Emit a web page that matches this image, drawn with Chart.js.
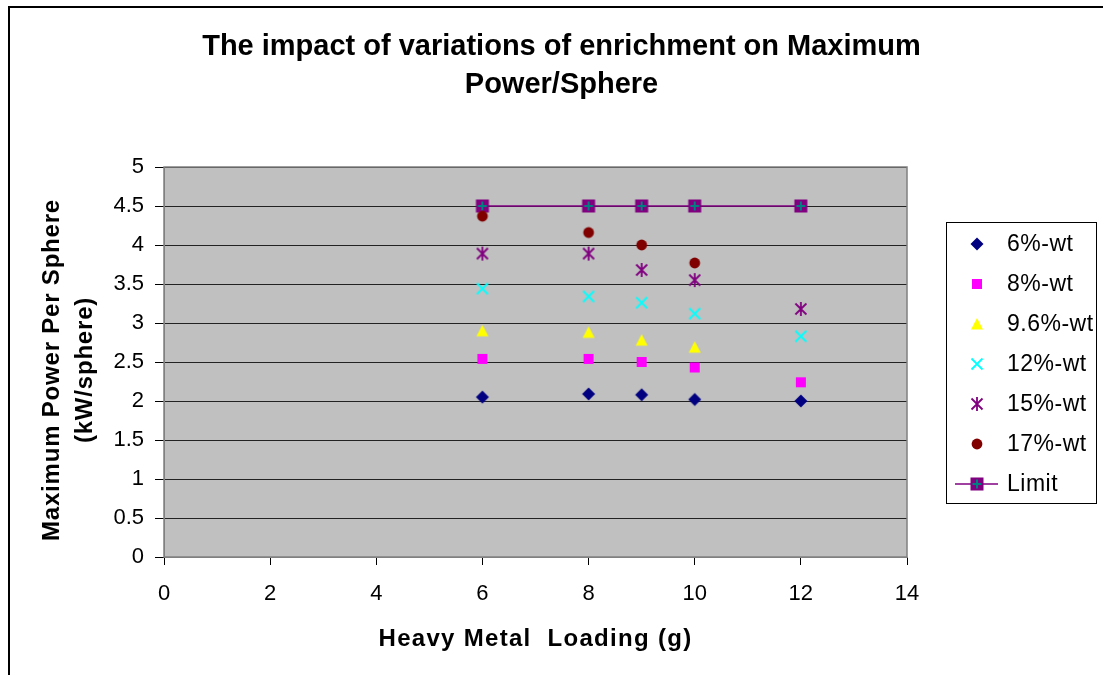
<!DOCTYPE html>
<html>
<head>
<meta charset="utf-8">
<script src="https://cdn.jsdelivr.net/npm/chart.js@4"></script>
<style>
  html, body { margin: 0; padding: 0; background: #fff; }
  #wrap { width: 1103px; height: 675px; }
</style>
</head>
<body>
<div id="wrap"><canvas id="powerChart" width="1103" height="675"></canvas></div>
<script>
// heavy metal loading (g)
const loading = [6, 8, 9, 10, 12];

// max power per sphere (kW/sphere) for each enrichment
const enr6 = [2.05, 2.09, 2.08, 2.02, 2.00];
const enr8 = [2.54, 2.54, 2.50, 2.43, 2.24];
const enr96 = [2.90, 2.88, 2.78, 2.69, null];
const enr12 = [3.44, 3.34, 3.26, 3.12, 2.83];
const enr15 = [3.89, 3.89, 3.68, 3.55, 3.18];
const enr17 = [4.37, 4.16, 4.00, 3.77, null];
const limit = [4.5, 4.5, 4.5, 4.5, 4.5];

const seriesNames = ["6%-wt", "8%-wt", "9.6%-wt", "12%-wt", "15%-wt", "17%-wt", "Limit"];

const titleLines = ["The impact of variations of enrichment on Maximum", "Power/Sphere"];
const xTitle = "Heavy Metal  Loading (g)";
const yTitle = ["Maximum Power Per Sphere", "(kW/sphere)"];

const FONT = '"Liberation Sans", Arial, sans-serif';

// little canvases used as point markers (Excel style)
function makeMarker(kind, color) {
    const c = document.createElement("canvas");
    c.width = 16;
    c.height = 16;
    const g = c.getContext("2d");
    g.fillStyle = color;
    g.strokeStyle = color;
    g.lineWidth = 1.8;
    if (kind === "diamond") {
        g.beginPath();
        g.moveTo(8, 1.5); g.lineTo(14.5, 8); g.lineTo(8, 14.5); g.lineTo(1.5, 8);
        g.closePath(); g.fill();
    } else if (kind === "square") {
        g.fillRect(3, 3, 10, 10);
    } else if (kind === "triangle") {
        g.beginPath();
        g.moveTo(8, 2); g.lineTo(14, 13.5); g.lineTo(2, 13.5);
        g.closePath(); g.fill();
    } else if (kind === "x") {
        g.beginPath();
        g.moveTo(2.5, 2.5); g.lineTo(13.5, 13.5);
        g.moveTo(13.5, 2.5); g.lineTo(2.5, 13.5);
        g.stroke();
    } else if (kind === "star") {
        g.beginPath();
        g.moveTo(2.5, 2.5); g.lineTo(13.5, 13.5);
        g.moveTo(13.5, 2.5); g.lineTo(2.5, 13.5);
        g.moveTo(8, 1); g.lineTo(8, 15);
        g.stroke();
    } else if (kind === "circle") {
        g.beginPath();
        g.arc(8, 8, 5.4, 0, Math.PI * 2);
        g.fill();
    } else if (kind === "limit") {
        g.fillRect(1.5, 1.5, 13, 13);
        g.strokeStyle = "#008080";
        g.lineWidth = 2;
        g.beginPath();
        g.moveTo(8, 3.5); g.lineTo(8, 12.5);
        g.moveTo(3.5, 8); g.lineTo(12.5, 8);
        g.stroke();
    }
    return c;
}

function toPoints(ys) {
    return loading.map((x, i) => ({ x: x, y: ys[i] })).filter(p => p.y !== null);
}

function series(i, ys, kind, color, line) {
    return {
        label: seriesNames[i],
        data: toPoints(ys),
        yAxisID: "y",
        pointStyle: makeMarker(kind, color),
        showLine: !!line,
        borderColor: color,
        backgroundColor: color,
        borderWidth: line ? 1.5 : 0,
    };
}

const datasets = [
    series(0, enr6, "diamond", "#000080"),
    series(1, enr8, "square", "#FF00FF"),
    series(2, enr96, "triangle", "#FFFF00"),
    series(3, enr12, "x", "#00FFFF"),
    series(4, enr15, "star", "#800080"),
    series(5, enr17, "circle", "#800000"),
    series(6, limit, "limit", "#800080", true),
];

// white page, the black frame and the grey plot area
const backdrop = {
    id: "backdrop",
    beforeDraw(chart) {
        const ctx = chart.ctx;
        const a = chart.chartArea;
        ctx.save();
        ctx.fillStyle = "#fff";
        ctx.fillRect(0, 0, chart.width, chart.height);
        ctx.fillStyle = "#000";
        ctx.fillRect(8, 6, 2, chart.height);
        ctx.fillRect(8, 6, chart.width, 2);
        ctx.fillStyle = "#C0C0C0";
        ctx.fillRect(a.left, a.top, a.right - a.left, a.bottom - a.top);
        ctx.restore();
    },
    beforeDatasetsDraw(chart) {
        const ctx = chart.ctx;
        const a = chart.chartArea;
        ctx.save();
        ctx.strokeStyle = "#808080";
        ctx.lineWidth = 1.5;
        ctx.strokeRect(a.left, a.top, a.right - a.left, a.bottom - a.top);
        ctx.restore();
    },
};

// axis titles, drawn with the wide letter spacing of the original
const axisTitles = {
    id: "axisTitles",
    afterDraw(chart) {
        const ctx = chart.ctx;
        const a = chart.chartArea;
        const cx = (a.left + a.right) / 2;
        ctx.save();
        ctx.fillStyle = "#000";
        ctx.font = "bold 24px " + FONT;
        ctx.textAlign = "center";
        ctx.textBaseline = "middle";
        ctx.letterSpacing = "1.3px";
        ctx.fillText(xTitle, cx, 639);

        ctx.letterSpacing = "0.8px";
        ctx.translate(0, 370);
        ctx.rotate(-Math.PI / 2);
        ctx.fillText(yTitle[0], 0, 52);
        ctx.fillText(yTitle[1], 0, 85);
        ctx.restore();
    },
};

// boxed legend on the right
const boxLegend = {
    id: "boxLegend",
    afterDraw(chart) {
        const ctx = chart.ctx;
        ctx.save();
        ctx.strokeStyle = "#000";
        ctx.lineWidth = 1;
        ctx.strokeRect(946.5, 222.5, 150, 281);
        ctx.font = "23px " + FONT;
        ctx.letterSpacing = "0.5px";
        ctx.textBaseline = "middle";
        ctx.textAlign = "left";
        ctx.fillStyle = "#000";
        chart.data.datasets.forEach((ds, i) => {
            const y = 244 + i * 40;
            if (ds.showLine) {
                ctx.strokeStyle = ds.borderColor;
                ctx.lineWidth = 1.5;
                ctx.beginPath();
                ctx.moveTo(955, y);
                ctx.lineTo(998, y);
                ctx.stroke();
            }
            const img = ds.pointStyle;
            ctx.drawImage(img, 977 - img.width / 2, y - img.height / 2);
            ctx.fillText(ds.label, 1007, y + 1);
        });
        ctx.restore();
    },
};

Chart.defaults.font.family = FONT;
Chart.defaults.color = "#000";

new Chart(document.getElementById("powerChart"), {
    type: "scatter",
    data: { datasets: datasets },
    options: {
        responsive: false,
        animation: false,
        layout: { padding: { left: 20, right: 0, top: 0, bottom: 0 } },
        elements: { point: { radius: 6, hoverRadius: 6 } },
        plugins: {
            legend: { display: false },
            tooltip: { enabled: false },
            title: {
                display: true,
                text: titleLines,
                color: "#000",
                font: { size: 29, weight: "bold", lineHeight: 38 / 29 },
                padding: { top: 28, bottom: 63 },
            },
        },
        scales: {
            x: {
                type: "linear",
                min: 0,
                max: 14,
                ticks: { stepSize: 2, font: { size: 22 }, color: "#000", padding: 16 },
                grid: { drawOnChartArea: false, tickLength: 8, tickColor: "#000" },
                border: { color: "#808080" },
                afterFit(s) { s.height = 118; },
            },
            y: {
                type: "linear",
                position: "left",
                min: 0,
                max: 5,
                ticks: {
                    stepSize: 0.5,
                    font: { size: 22 },
                    color: "#000",
                    padding: 11,
                    callback: v => String(v),
                },
                grid: { color: "#222", lineWidth: 1, tickLength: 9, tickColor: "#000" },
                border: { color: "#808080" },
                afterFit(s) { s.width = 144; },
            },
            yr: {
                type: "linear",
                position: "right",
                display: true,
                ticks: { display: false },
                grid: { display: false },
                border: { display: false },
                afterFit(s) { s.width = 196; },
            },
        },
    },
    plugins: [backdrop, axisTitles, boxLegend],
});
</script>
</body>
</html>
